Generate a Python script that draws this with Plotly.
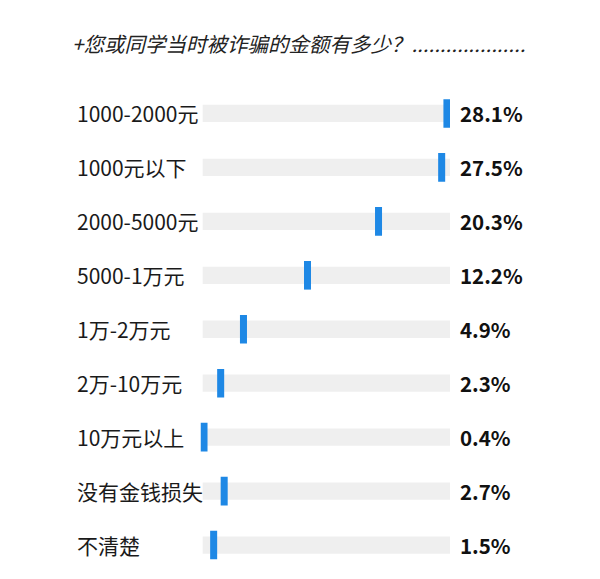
import plotly.graph_objects as go

categories = ["1000-2000元", "1000元以下", "2000-5000元", "5000-1万元", "1万-2万元",
              "2万-10万元", "10万元以上", "没有金钱损失", "不清楚"]
values = [28.1, 27.5, 20.3, 12.2, 4.9, 2.3, 0.4, 2.7, 1.5]
value_labels = ["28.1%", "27.5%", "20.3%", "12.2%", "4.9%", "2.3%", "0.4%", "2.7%", "1.5%"]
title_text = "+您或同学当时被诈骗的金额有多少？...................."

track_start = 0.25
track_end = 28.45
marker_w = 0.8

FONT = "Noto Sans CJK SC"
W, H = 600, 579
OX, OY = 8, 8  # page body offset

fig = go.Figure()
fig.add_trace(go.Bar(
    y=categories, x=[track_end - track_start] * len(categories), base=[track_start] * len(categories),
    orientation="h", marker=dict(color="#efefef", line=dict(width=0)), width=0.32,
    hoverinfo="skip", showlegend=False))
fig.add_trace(go.Bar(
    y=categories, x=[marker_w] * len(categories), base=[v - marker_w / 2 for v in values],
    orientation="h", marker=dict(color="#1e88e5", line=dict(width=0)), width=0.53,
    hoverinfo="skip", showlegend=False))

annotations = []
for c, lab in zip(categories, value_labels):
    annotations.append(dict(x=(75 - OX) / W, xref="paper", y=c, yref="y", text=c, showarrow=False,
                            xanchor="left", yanchor="middle",
                            font=dict(family=FONT, size=21, color="#1a1a1a")))
    annotations.append(dict(x=(458 - OX) / W, xref="paper", y=c, yref="y", text="<b>" + lab + "</b>",
                            showarrow=False, xanchor="left", yanchor="middle",
                            font=dict(family=FONT, size=20.5, color="#111111")))
annotations.append(dict(x=(70 - OX) / W, xref="paper", y=(H - 43 + OY) / H, yref="paper",
                        text="<i>" + title_text + "</i>",
                        showarrow=False, xanchor="left", yanchor="middle",
                        font=dict(family=FONT, size=20.5, color="#222222")))

fig.update_layout(
    width=W, height=H, margin=dict(l=0, r=0, t=0, b=0),
    paper_bgcolor="white", plot_bgcolor="white", barmode="overlay",
    xaxis=dict(domain=[(200.5 - OX) / W, (450 - OX) / W], range=[0, track_end], visible=False, fixedrange=True),
    yaxis=dict(domain=[(H - 572 + OY) / H, (H - 86.5 + OY) / H], categoryorder="array", categoryarray=categories,
               range=[8.5, -0.5], visible=False, fixedrange=True),
    annotations=annotations,
)
fig.write_html("out.html")
